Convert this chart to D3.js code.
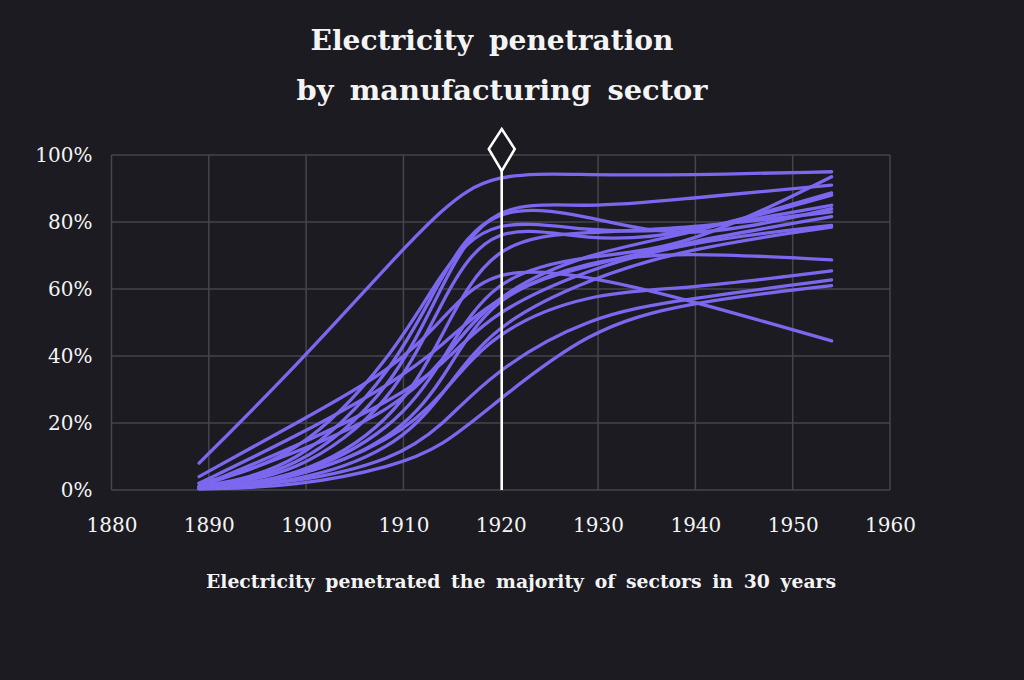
<!DOCTYPE html>
<html>
<head>
<meta charset="utf-8">
<script src="https://cdn.jsdelivr.net/npm/d3@7"></script>
<style>
  html, body { margin: 0; padding: 0; background: #1b1b21; }
  svg { display: block; }
  text { font-family: "DejaVu Serif", serif; fill: #f4f4f4; }
</style>
</head>
<body>
<script>
// layout del gráfico
const WIDTH = 1024, HEIGHT = 680;
let margin = {top: 155, right: 134, bottom: 190, left: 111.5},
    width = WIDTH - margin.left - margin.right,
    height = HEIGHT - margin.top - margin.bottom;

// datos (% de potencia eléctrica por sector)
const years = [1889, 1899, 1909, 1914, 1919, 1929, 1939, 1954];
const s01 = [8, 37, 69, 84, 95, 94, 94, 95];
const s02 = [1, 5, 30, 62, 87, 84, 87, 91];
const s03 = [1, 6, 35, 65, 86, 82, 74, 84];
const s04 = [2, 9, 40, 66, 82, 77, 77, 85];
const s05 = [1, 4, 26, 57, 81, 74, 76, 88];
const s06 = [0.5, 3, 20, 46, 75, 77, 78, 83];
const s07 = [0.5, 3, 18, 38, 64, 70, 72, 93.5];
const s08 = [1, 11, 24, 38, 58, 71, 76, 88.7];
const s09 = [0.5, 3, 15, 32, 59, 67, 74, 81.6];
const s10 = [1, 13, 27, 37, 53, 66, 74, 79];
const s11 = [0.5, 2, 12, 28, 49, 63, 72, 78.5];
const s12 = [2, 16, 32, 43, 57, 69, 71, 68.7];
const s13 = [4, 20, 36, 51, 67, 64, 57, 44.5];
const s14 = [0.5, 3, 15, 28, 47, 59, 60, 65.4];
const s15 = [0.5, 2, 9, 19, 35, 52, 57, 62.7];
const s16 = [0.3, 1, 7, 13, 25, 48, 56, 61];
const series = [s01, s02, s03, s04, s05, s06, s07, s08, s09, s10, s11, s12, s13, s14, s15, s16];

const xTicks = [1880, 1890, 1900, 1910, 1920, 1930, 1940, 1950, 1960];
const yTicks = [0, 20, 40, 60, 80, 100];
const markYear = 1920;

const titleLines = ["Electricity penetration", "by manufacturing sector"];
const subtitle = "Electricity penetrated the majority of sectors in 30 years";

let svg = d3.select("body").append("svg")
    .attr("width", WIDTH)
    .attr("height", HEIGHT);

let chart = svg.append("g")
    .attr("transform", "translate(" + margin.left + "," + margin.top + ")");

let xScale = d3.scaleLinear().domain([1880, 1960]).range([0, width]);
let yScale = d3.scaleLinear().domain([0, 100]).range([height, 0]);

// rejilla
chart.append("g")
    .selectAll("line")
    .data(xTicks)
    .enter().append("line")
        .attr("x1", d => xScale(d)).attr("x2", d => xScale(d))
        .attr("y1", 0).attr("y2", height)
        .attr("stroke", "#45454d").attr("stroke-width", 1.5);

chart.append("g")
    .selectAll("line")
    .data(yTicks)
    .enter().append("line")
        .attr("x1", 0).attr("x2", width)
        .attr("y1", d => yScale(d)).attr("y2", d => yScale(d))
        .attr("stroke", "#45454d").attr("stroke-width", 1.5);

// ejes (solo etiquetas)
let xAxis = chart.append("g")
    .attr("transform", "translate(0," + height + ")")
    .call(d3.axisBottom(xScale).tickValues(xTicks).tickFormat(d3.format("d")).tickSize(0).tickPadding(28));
let yAxis = chart.append("g")
    .call(d3.axisLeft(yScale).tickValues(yTicks).tickFormat(d => d + "%").tickSize(0).tickPadding(19));

[xAxis, yAxis].forEach(a => {
    a.select(".domain").remove();
    a.selectAll("text")
        .attr("font-family", "DejaVu Serif, serif")
        .attr("font-size", 20)
        .attr("fill", "#f4f4f4");
});

// lineas
let line = d3.line()
    .x((d, i) => xScale(years[i]))
    .y(d => yScale(d))
    .curve(d3.curveBasis);

chart.append("g")
    .selectAll("path")
    .data(series)
    .enter().append("path")
        .attr("d", line)
        .attr("fill", "none")
        .attr("stroke", "#7b68ee")
        .attr("stroke-width", 3.3)
        .attr("stroke-linecap", "round");

// marcador 1920
let mx = xScale(markYear) + 1;
chart.append("line")
    .attr("x1", mx).attr("x2", mx)
    .attr("y1", yScale(0)).attr("y2", 16)
    .attr("stroke", "#ffffff").attr("stroke-width", 2.5);

chart.append("path")
    .attr("d", "M" + mx + "," + (-26) + " L" + (mx + 13) + "," + (-6) + " L" + mx + "," + 16 + " L" + (mx - 13) + "," + (-6) + " Z")
    .attr("fill", "#1b1b21")
    .attr("stroke", "#ffffff")
    .attr("stroke-width", 2.5);

// títulos
svg.selectAll(".title")
    .data(titleLines)
    .enter().append("text")
        .attr("class", "title")
        .attr("x", (d, i) => i == 0 ? 492 : 502)
        .attr("y", (d, i) => 50 + i * 50)
        .attr("text-anchor", "middle")
        .attr("font-size", 28)
        .attr("font-weight", "bold")
        .attr("word-spacing", 6)
        .attr("textLength", (d, i) => i == 0 ? 363 : 411)
        .attr("lengthAdjust", "spacingAndGlyphs")
        .text(d => d);

svg.append("text")
    .attr("x", 521)
    .attr("y", 588)
    .attr("text-anchor", "middle")
    .attr("font-size", 18)
    .attr("font-weight", "bold")
    .attr("word-spacing", 4)
    .attr("textLength", 630)
    .attr("lengthAdjust", "spacingAndGlyphs")
    .text(subtitle);
</script>
</body>
</html>
